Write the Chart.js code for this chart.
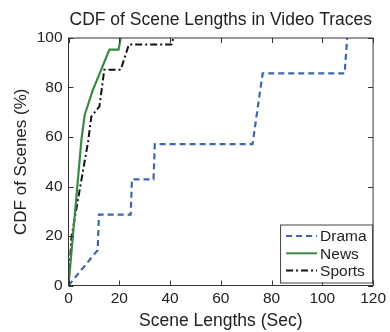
<!DOCTYPE html>
<html>
<head>
<meta charset="utf-8">
<script src="https://cdn.jsdelivr.net/npm/chart.js@4/dist/chart.umd.min.js"></script>
<style>
  html, body { margin: 0; padding: 0; background: #fff; }
  #wrap { width: 390px; height: 332px; }
</style>
</head>
<body>
<div id="wrap"><canvas id="cdf"></canvas></div>
<script>
// values
var dramaX = [0, 11.5, 12, 24.5, 25, 33.5, 34, 72.5, 74.5, 76.5, 108.8, 109.8];
var dramaY = [0, 14.3, 28.6, 28.6, 42.9, 42.9, 57.1, 57.1, 71.4, 85.7, 85.7, 100];

var newsX = [0, 5.1, 6.4, 9.6, 12.9, 16.1, 19.7, 20.6];
var newsY = [0, 58.9, 69, 79, 87.2, 95.3, 95.3, 100];

var sportsX = [0, 1.2, 7.7, 9.0, 12.2, 14.1, 20.6, 23.8, 40.6, 41.3];
var sportsY = [0, 19.8, 58, 68.3, 72.4, 87.2, 87.2, 97.4, 97.4, 100];

var seriesNames = ["Drama", "News", "Sports"];
var xTicks = [0, 20, 40, 60, 80, 100, 120];
var yTicks = [0, 20, 40, 60, 80, 100];

var FONT = "'Liberation Sans', Arial, sans-serif";
var TEXT = "#222";

function toPoints(xs, ys) {
    var pts = [];
    for (var i = 0; i < xs.length; i++) {
        pts.push({ x: xs[i], y: ys[i] });
    }
    return pts;
}

// matlab style frame, inward ticks and boxed legend
var frameAndLegend = {
    id: "frameAndLegend",
    afterDatasetsDraw: function(chart) {
        var ctx = chart.ctx;
        var a = chart.chartArea;
        var xs = chart.scales.x, ys = chart.scales.y;
        var len = 5;

        ctx.save();
        ctx.strokeStyle = "#333";
        ctx.lineWidth = 1;
        ctx.setLineDash([]);
        ctx.strokeRect(a.left, a.top, a.right - a.left, a.bottom - a.top);

        ctx.beginPath();
        xTicks.forEach(function(v) {
            var px = Math.round(xs.getPixelForValue(v)) + 0.5;
            ctx.moveTo(px, a.bottom); ctx.lineTo(px, a.bottom - len);
            ctx.moveTo(px, a.top); ctx.lineTo(px, a.top + len);
        });
        yTicks.forEach(function(v) {
            var py = Math.round(ys.getPixelForValue(v)) + 0.5;
            ctx.moveTo(a.left, py); ctx.lineTo(a.left + len, py);
            ctx.moveTo(a.right, py); ctx.lineTo(a.right - len, py);
        });
        ctx.stroke();

        // legend box in the lower right corner
        var bw = 92, bh = 58;
        var bx = a.right - bw - 1, by = a.bottom - bh - 3;
        ctx.fillStyle = "#fff";
        ctx.fillRect(bx, by, bw, bh);
        ctx.strokeStyle = "#444";
        ctx.strokeRect(bx + 0.5, by + 0.5, bw, bh);

        ctx.font = "15.5px " + FONT;
        ctx.textBaseline = "middle";
        chart.data.datasets.forEach(function(ds, i) {
            var ry = by + 11.5 + i * 17.3;
            ctx.beginPath();
            ctx.strokeStyle = ds.borderColor;
            ctx.lineWidth = 2;
            ctx.setLineDash(ds.borderDash || []);
            ctx.moveTo(bx + 6, ry);
            ctx.lineTo(bx + 37, ry);
            ctx.stroke();
            ctx.setLineDash([]);
            ctx.fillStyle = TEXT;
            ctx.fillText(ds.label, bx + 40, ry + 1);
        });
        ctx.restore();
    }
};

new Chart(document.getElementById("cdf"), {
    type: "scatter",
    data: {
        datasets: [
            {
                label: seriesNames[0],
                data: toPoints(dramaX, dramaY),
                showLine: true,
                borderColor: "#3d66ac",
                borderWidth: 2.2,
                borderDash: [6, 4],
                pointRadius: 0,
                tension: 0
            },
            {
                label: seriesNames[1],
                data: toPoints(newsX, newsY),
                showLine: true,
                borderColor: "#3a8a45",
                borderWidth: 2.2,
                pointRadius: 0,
                tension: 0
            },
            {
                label: seriesNames[2],
                data: toPoints(sportsX, sportsY),
                showLine: true,
                borderColor: "#111",
                borderWidth: 2,
                borderDash: [7, 3, 2, 3],
                pointRadius: 0,
                tension: 0
            }
        ]
    },
    options: {
        responsive: true,
        maintainAspectRatio: false,
        animation: false,
        layout: { padding: { left: 0, right: 12, top: 0, bottom: 0 } },
        plugins: {
            legend: { display: false },
            tooltip: { enabled: false },
            title: {
                display: true,
                fullSize: false,
                text: "CDF of Scene Lengths in Video Traces",
                color: TEXT,
                font: { family: FONT, size: 17.5, weight: "normal" },
                padding: { top: 10, bottom: 7 }
            }
        },
        scales: {
            x: {
                type: "linear",
                min: 0,
                max: 120,
                afterBuildTicks: function(scale) {
                    scale.ticks = xTicks.map(function(v) { return { value: v }; });
                },
                afterFit: function(scale) { scale.height = 46.5; },
                grid: { display: false, drawTicks: false },
                border: { display: false },
                ticks: {
                    color: TEXT,
                    padding: 4,
                    maxRotation: 0,
                    font: { family: FONT, size: 15.5 }
                },
                title: {
                    display: true,
                    text: "Scene Lengths (Sec)",
                    color: TEXT,
                    font: { family: FONT, size: 17.5 },
                    padding: { top: 1, bottom: 0 }
                }
            },
            y: {
                type: "linear",
                min: 0,
                max: 100,
                afterBuildTicks: function(scale) {
                    scale.ticks = yTicks.map(function(v) { return { value: v }; });
                },
                afterFit: function(scale) { scale.width = 68.5; },
                grid: { display: false, drawTicks: false },
                border: { display: false },
                ticks: {
                    color: TEXT,
                    padding: 6,
                    font: { family: FONT, size: 15.5 }
                },
                title: {
                    display: true,
                    text: "CDF of Scenes (%)",
                    color: TEXT,
                    font: { family: FONT, size: 17 },
                    padding: { top: 11, bottom: 0 }
                }
            }
        }
    },
    plugins: [frameAndLegend]
});
</script>
</body>
</html>
